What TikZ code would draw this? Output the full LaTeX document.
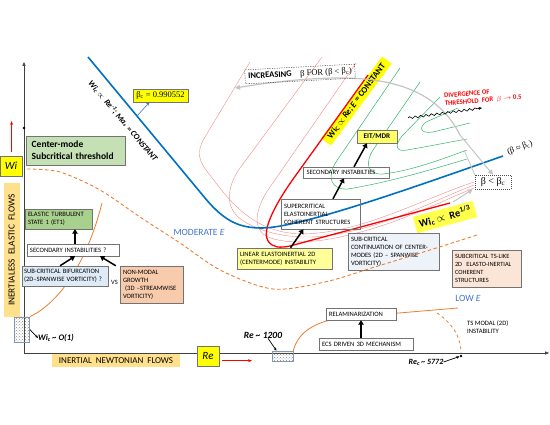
\documentclass[tikz,border=0pt]{standalone}
\usepackage{fontspec}
\setmainfont{Carlito}
\newfontfamily\serif{Liberation Serif}
\usetikzlibrary{arrows.meta,patterns,decorations.pathmorphing}
\definecolor{ablue}{HTML}{0070C0}
\definecolor{tblue}{HTML}{4472C4}
\definecolor{aorange}{HTML}{ED7D31}
\definecolor{pinkc}{HTML}{F08A8A}
\definecolor{greenc}{HTML}{2DB46A}
\definecolor{grayc}{HTML}{C4C4C4}
\definecolor{ybright}{HTML}{FFFF00}
\definecolor{ylight}{HTML}{FFFF99}
\definecolor{ymid}{HTML}{FFFF66}
\definecolor{axlab}{HTML}{FFE08C}
\definecolor{cmgreen}{HTML}{C5E0B4}
\definecolor{etgreen}{HTML}{A9D18E}
\definecolor{lblue}{HTML}{DEEBF7}
\definecolor{llblue}{HTML}{EEF3FA}
\definecolor{salmon}{HTML}{F8CBAD}
\definecolor{lsalmon}{HTML}{FBE5D6}
\definecolor{hatchb}{HTML}{8497B0}
\definecolor{axc}{HTML}{404040}
\begin{document}
\begin{tikzpicture}[x=1pt,y=-1pt,
  bx/.style={draw=black!55, line width=0.45pt, inner xsep=3pt, inner ysep=0.5pt, align=left, font=\fontsize{6.6}{8.1}\selectfont},
  lab/.style={inner sep=0pt, align=left},
  bigarrow/.style={line width=1.5pt, -{Triangle[length=4.5pt,width=5.5pt]}},
  tip/.style={line width=0.7pt, -{Stealth[length=3.2pt,width=2.8pt]}},
  pinkline/.style={pinkc, line width=0.4pt},
  greenline/.style={greenc, line width=0.5pt},
  hatchbox/.style={draw=hatchb, line width=0.6pt, pattern=crosshatch dots, pattern color=black!45, inner sep=0pt},
  grayarrow/.style={grayc, line width=1.2pt, -{Triangle[length=5pt,width=5pt]}}
]
\useasboundingbox (0,0) rectangle (550,425);

% axes
\coordinate (O) at (24,353);
\coordinate (ytop) at (24,62);
\coordinate (xend) at (549,353);
\draw[axc, line width=0.6pt, -{Triangle[length=4pt,width=3.2pt]}] (O) -- (ytop);
\draw[axc, line width=0.6pt, -{Triangle[length=4pt,width=3.2pt]}] (O) -- (xend);
\fill (24,128) circle (1.3);

% pink curves
\draw[pinkline] (250,62) -- (205,137) .. controls (196,152) and (198,161) .. (210,175) .. controls (232,205) and (255,232) .. (300,234) .. controls (360,234) and (420,200) .. (474,182);
\draw[pinkline] (322,57) -- (240,168) .. controls (226,188) and (224,210) .. (245,222) .. controls (262,232) and (290,240) .. (325,236) .. controls (385,228) and (430,202) .. (474,185);
\draw[pinkline] (356,63) -- (268,190) .. controls (256,208) and (252,228) .. (266,236) .. controls (280,243) and (305,244) .. (335,238) .. controls (395,226) and (432,205) .. (474,188);

% green curves
\draw[greenline] (400,68) -- (336,162) .. controls (327,176) and (330,190) .. (348,189) .. controls (390,182) and (430,170) .. (467,159);
\draw[greenline] (420,82) -- (373,150) .. controls (365,163) and (367,175) .. (383,174) .. controls (410,171) and (440,160) .. (467,150);
\draw[greenline] (440,97) -- (402,136) .. controls (394,146) and (396,152) .. (407,150) .. controls (425,147) and (450,142) .. (467,139);
\draw[greenline] (458,108) -- (426,122) .. controls (418,128) and (421,134) .. (433,132) -- (470,123);

% yellow bands
\node[fill=ybright, rotate=53.4, minimum width=102pt, minimum height=12pt, inner sep=0pt, font=\fontsize{8.8}{10}\selectfont\bfseries] (bandA) at (356.5,101) {Wi\textsubscript{C} $\propto$ \textit{Re; E} = CONSTANT};
\node[fill=ybright!70!white, rotate=15, minimum width=62pt, minimum height=17pt, inner sep=0pt, font=\fontsize{10.5}{12}\selectfont\bfseries] (bandB) at (445,217) {Wi\textsubscript{c} $\propto$ \ Re\textsuperscript{1/3}};

% red thick
\draw[red, line width=1.3pt] (368,75) -- (296,175) .. controls (272,208) and (262,232) .. (268,241) .. controls (273,248) and (280,248) .. (290,246) -- (450,203);

% blue line
\draw[ablue, line width=1.6pt] (88,57) -- (205,198) .. controls (225,222) and (240,228) .. (262,228) .. controls (300,228) and (420,185) .. (503,156);

% gray arrows
\coordinate (gA) at (460,135);
\coordinate (gL) at (235,88);
\coordinate (gB) at (464,150);
\coordinate (gC) at (453,202);
\draw[grayarrow] (gA) .. controls (440,95) and (400,78) .. (340,78) .. controls (300,78) and (260,84) .. (gL);

% orange curves
\node[hatchbox, minimum width=15.5pt, minimum height=25pt] (hb1) at (21.75,329.5) {};
\node[hatchbox, minimum width=21pt, minimum height=10pt] (hb2) at (282.5,356) {};
\draw[aorange, line width=0.8pt] (hb1.north east) .. controls (55,305) and (85,270) .. (102,203);
\draw[aorange, line width=0.8pt] (hb2.north east) .. controls (298,332) and (315,322) .. (340,318) -- (458,308);
\coordinate (tsd) at (461,353);
\draw[aorange, line width=0.8pt, dashed] (437,313) .. controls (455,325) and (461,340) .. (tsd);

% axis labels
\node[fill=axlab, rotate=90, minimum width=134pt, minimum height=16.5pt, inner sep=0pt, font=\fontsize{9.3}{10}\selectfont] (inel) at (11.75,250) {INERTIALESS\ \ ELASTIC\ \ FLOWS};
\node[fill=axlab, minimum width=128pt, minimum height=13pt, inner sep=0pt, font=\fontsize{9}{10}\selectfont] (inne) at (116,360.5) {INERTIAL\ \ NEWTONIAN\ \ FLOWS};
\node[fill=ybright, draw=black!55, line width=0.45pt, minimum width=22pt, minimum height=20pt, inner sep=0pt, font=\fontsize{11}{12}\selectfont\itshape] (wi) at (11,166) {Wi};
\node[fill=ybright, draw=black!55, line width=0.45pt, minimum width=22pt, minimum height=20pt, inner sep=0pt, font=\fontsize{11}{12}\selectfont\itshape] (re) at (208,356) {Re};
\coordinate (wia) at (11.6,152);
\coordinate (wib) at (11.6,121);
\draw[red, line width=0.6pt, -{Stealth[length=4pt,width=3pt]}] (wia) -- (wib);
\coordinate (rea) at (222,360.7);
\coordinate (reb) at (252,360.7);
\draw[red, line width=0.6pt, -{Stealth[length=4pt,width=3pt]}] (rea) -- (reb);

% boxes left
\node[bx, fill=cmgreen, minimum height=29pt, text width=89pt, inner xsep=5pt, font=\fontsize{9.5}{12.3}\selectfont\bfseries] (cm) at (76.2,150.5) {Center-mode\\Subcritical threshold};
\node[bx, fill=etgreen, minimum height=20pt, text width=61pt] (et1) at (58.5,219) {ELASTIC TURBULENT\\STATE 1 (ET1)};
\node[bx, fill=white, minimum height=12pt, text width=86pt] (sec1) at (73,250) {SECONDARY INSTABILITIES ?};
\node[bx, fill=lblue, minimum height=20pt, text width=82pt, inner xsep=2pt] (subbif) at (65,276) {SUB-CRITICAL BIFURCATION\\(2D--SPANWISE VORTICITY) ?};
\node[lab, font=\fontsize{6.5}{7}\selectfont] (vs) at (114.5,282) {VS};
\node[bx, fill=salmon, minimum height=37pt, text width=57.5pt] (nonm) at (151.75,284.5) {NON-MODAL\\GROWTH\\\ (3D --STREAMWISE\\VORTICITY)};

\draw[bigarrow] ([xshift=2pt]sec1.north) -- ([xshift=16.5pt]et1.south);
\draw[bigarrow] ([xshift=-5pt]subbif.north) -- ([xshift=2pt]sec1.south);
\draw[bigarrow] ([xshift=-4pt]nonm.north west) -- ([xshift=27pt]sec1.south);

\node[lab, font=\fontsize{8.5}{9}\selectfont\bfseries\itshape, anchor=west] (wic) at (38,338) {Wi\textsubscript{c}\,\textasciitilde\ O(1)};
\draw[tip] (hb1.east) -- (wic.west);

% beta_c box
\node[bx, fill=ybright, minimum height=13pt, minimum width=55pt, align=center, inner xsep=1pt, font=\fontsize{8.5}{9}\selectfont\serif] (bc) at (160.5,95.5) {β\textsubscript{c} = 0.990552};
\coordinate (bcp) at (137,116);
\draw[tblue, line width=0.6pt, -{Stealth[length=3.5pt,width=3pt]}] (bcp) -- ([xshift=-11pt]bc.south);

\node[lab, rotate=-50, font=\fontsize{8.3}{9}\selectfont\bfseries\itshape] (blt1) at (123,121) {Wi\textsubscript{c} $\propto$\ \ Re\textsuperscript{-1}; Ma\textsubscript{+} = CONSTANT};

% middle boxes
\node[bx, fill=ylight, minimum height=21pt, text width=89pt] (lin) at (284.5,258.5) {LINEAR ELASTOINERTIAL 2D\\(CENTERMODE) INSTABILITY};
\node[bx, minimum height=30pt, text width=73pt] (sup) at (320.5,214) {SUPERCRITICAL\\ELASTOINERTIAL\\COHERENT STRUCTURES};
\node[bx, minimum height=11pt, text width=80pt] (sec2) at (346.5,172.5) {SECONDARY INSTABILTIES};
\node[bx, fill=ymid, minimum height=13pt, minimum width=40.5pt, align=center, inner xsep=1pt, font=\fontsize{7.2}{8}\selectfont\bfseries] (eit) at (377,136.5) {EIT/MDR};
\draw[bigarrow] ([xshift=6pt]lin.north) -- ([xshift=-17pt]sup.south);
\draw[bigarrow] ([xshift=12.5pt]sup.north) -- ([xshift=-2.5pt]sec2.south);
\draw[bigarrow] ([xshift=7.5pt]sec2.north) -- ([xshift=-10pt]eit.south);

\node[bx, fill=llblue, minimum height=37pt, text width=85pt] (cont) at (393.5,251.5) {SUB-CRITICAL\\CONTINUATION OF CENTER-\\MODES (2D -- SPANWISE\\VORTICITY)};
\node[bx, fill=lsalmon, minimum height=37pt, text width=63pt, font=\fontsize{6.4}{8.1}\selectfont] (tsl) at (486.5,268.5) {SUBCRITICAL TS-LIKE\\2D\ \ ELASTO-INERTIAL\\COHERENT\\STRUCTURES};

\node[bx, fill=white, minimum height=12pt, text width=64pt] (relam) at (361,314) {RELAMINARIZATION};
\node[bx, fill=white, minimum height=12pt, text width=88pt] (ecs) at (366,344) {ECS DRIVEN 3D MECHANISM};
\draw[bigarrow] ([xshift=-5pt]ecs.north) -- (relam.south);

% right-side labels
\node[bx, draw=black!70, dash pattern=on 1pt off 1pt, minimum height=14pt, minimum width=36pt, align=center, inner xsep=1pt, font=\fontsize{10}{11}\selectfont\serif] (blt) at (493,182) {β < β\textsubscript{c}};
\draw[grayarrow, line width=1pt] (gA) -- (blt.north);
\draw[grayc, line width=0.8pt] (gB) -- (blt.north west);
\draw[grayarrow, line width=1pt] (gC) -- ([xshift=-2pt]blt.south west);

\node[lab, rotate=20, font=\fontsize{8.5}{9}\selectfont\serif] (bapprox) at (520,148) {(β ≈ β\textsubscript{c})};
\node[lab, rotate=5, text=red, font=\fontsize{6.8}{8}\selectfont\bfseries] (div) at (483,97) {DIVERGENCE OF\\THRESHOLD\ \ FOR\ \ $\beta\rightarrow$ 0.5};
\coordinate (w1) at (408,118);
\coordinate (w2) at (482,108);
\draw[line width=0.6pt, decorate, decoration={snake, amplitude=1.1pt, segment length=5.5pt, post length=4pt}, -{Stealth[length=3.5pt,width=3pt]}] (w1) -- (w2);

\node[draw=black!80, dash pattern=on 1.2pt off 1.2pt, line width=0.4pt, rotate=3, minimum width=110pt, minimum height=14pt, inner sep=0pt] (incr) at (300,74) {\fontsize{8.5}{9}\selectfont\bfseries INCREASING\quad\serif\mdseries β FOR (β < β\textsubscript{c})};

\node[lab, text=tblue, font=\fontsize{9.5}{10}\selectfont] (mod) at (199,232) {MODERATE \textit{E}};
\node[lab, text=tblue, font=\fontsize{9.5}{10}\selectfont] (low) at (468,298) {LOW \textit{E}};

\node[lab, anchor=north west, font=\fontsize{6.6}{8}\selectfont] (tsm) at (467,320) {TS MODAL (2D)\\INSTABILITY};

\node[lab, font=\fontsize{9.5}{10}\selectfont\bfseries\itshape] (re1200) at (263,335) {Re \textasciitilde\ 1200};
\draw[tip] ([xshift=5pt]re1200.south) -- ([xshift=-6pt]hb2.north);

\node[circle, fill=black, inner sep=0pt, minimum size=2.8pt] (tsdot) at (461,356) {};
\node[lab, font=\fontsize{8}{9}\selectfont\bfseries\itshape] (rec) at (426,362) {Re\textsubscript{c}\,\textasciitilde\ 5772};
\draw[tip] (rec.east) -- (tsdot);

% big dashed orange curve (on top)
\draw[aorange, line width=0.9pt, dash pattern=on 3.5pt off 2.5pt] plot[smooth] coordinates {(27,169) (60,172) (100,190) (140,217) (180,243) (222,271) (273,289) (325,282) (378,266) (430,250) (477,235)};

\end{tikzpicture}
\end{document}
